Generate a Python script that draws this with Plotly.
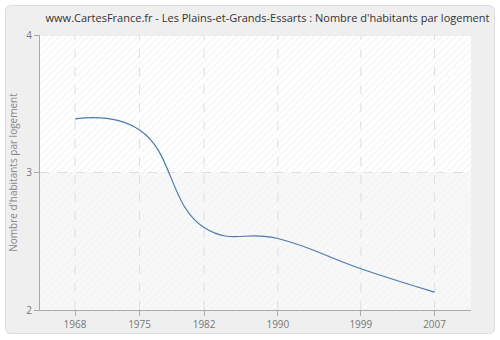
import plotly.graph_objects as go

years = [1968, 1975, 1982, 1990, 1999, 2007]
values = [3.39, 3.31, 2.60, 2.52, 2.30, 2.13]
x_ticks = [1968, 1975, 1982, 1990, 1999, 2007]
y_ticks = [2, 3, 4]
title = "www.CartesFrance.fr - Les Plains-et-Grands-Essarts : Nombre d'habitants par logement"
y_title = "Nombre d'habitants par logement"

X_RANGE = [1964.2, 2010.95]
Y_RANGE = [2, 4]

W, H = 500, 340
ML, MR, MT, MB = 40, 29, 35, 30

fig = go.Figure()

# hatched background bands
fig.add_trace(go.Scatter(
    x=[X_RANGE[0], X_RANGE[1], X_RANGE[1], X_RANGE[0], X_RANGE[0]],
    y=[3, 3, 4, 4, 3], mode="lines", line=dict(width=0),
    fill="toself", fillcolor="#ffffff",
    fillpattern=dict(shape="/", fgcolor="#e2e2e2", bgcolor="#ffffff", size=5, solidity=0.2),
    hoverinfo="skip", showlegend=False))
fig.add_trace(go.Scatter(
    x=[X_RANGE[0], X_RANGE[1], X_RANGE[1], X_RANGE[0], X_RANGE[0]],
    y=[2, 2, 3, 3, 2], mode="lines", line=dict(width=0),
    fill="toself", fillcolor="#f8f8f8",
    fillpattern=dict(shape="/", fgcolor="#ececec", bgcolor="#f8f8f8", size=5, solidity=0.2),
    hoverinfo="skip", showlegend=False))

# dashed gridlines drawn above the hatched bands
for xv in x_ticks:
    fig.add_trace(go.Scatter(x=[xv, xv], y=Y_RANGE, mode="lines",
                             line=dict(color="#dedede", width=1, dash="dash"),
                             hoverinfo="skip", showlegend=False))
for yv in y_ticks[1:]:
    fig.add_trace(go.Scatter(x=X_RANGE, y=[yv, yv], mode="lines",
                             line=dict(color="#dedede", width=1, dash="dash" if yv < Y_RANGE[1] else "solid"),
                             hoverinfo="skip", showlegend=False))

fig.add_trace(go.Scatter(
    x=years, y=values, mode="lines",
    line=dict(color="#4a7ab0", width=1.2, shape="spline", smoothing=1.3),
    showlegend=False, hoverinfo="x+y"))

pw = W - ML - MR
ph = H - MT - MB

def px(x):
    return (x - ML) / pw

def py(y):
    return (H - MB - y) / ph

x0, x1, y0, y1, r = 5.5, 494.5, 5.5, 333.5, 6
path = (f"M {px(x0+r)},{py(y0)} L {px(x1-r)},{py(y0)} Q {px(x1)},{py(y0)} {px(x1)},{py(y0+r)} "
        f"L {px(x1)},{py(y1-r)} Q {px(x1)},{py(y1)} {px(x1-r)},{py(y1)} "
        f"L {px(x0+r)},{py(y1)} Q {px(x0)},{py(y1)} {px(x0)},{py(y1-r)} "
        f"L {px(x0)},{py(y0+r)} Q {px(x0)},{py(y0)} {px(x0+r)},{py(y0)} Z")

fig.update_layout(
    width=W, height=H,
    margin=dict(l=ML, r=MR, t=MT, b=MB, autoexpand=False),
    paper_bgcolor="#ffffff",
    plot_bgcolor="#f8f8f8",
    font=dict(family="Open Sans", size=10, color="#666666"),
    title=dict(text=title, x=0.535, xanchor="center", y=0.947, yanchor="middle",
               font=dict(family="Open Sans", size=11, color="#333333")),
    shapes=[dict(type="path", path=path, xref="paper", yref="paper",
                 fillcolor="#efefef", line=dict(color="#dddddd", width=1), layer="below")],
    xaxis=dict(range=X_RANGE, tickvals=x_ticks, ticktext=[str(v) for v in x_ticks],
               showgrid=False,
               showline=True, linecolor="#aaaaaa", linewidth=1,
               ticks="outside", ticklen=5, tickcolor="#aaaaaa",
               zeroline=False, fixedrange=True, automargin=False,
               tickfont=dict(size=10, color="#777777")),
    yaxis=dict(range=Y_RANGE, tickvals=y_ticks, ticktext=[str(v) for v in y_ticks],
               showgrid=False,
               showline=True, linecolor="#aaaaaa", linewidth=1,
               ticks="outside", ticklen=5, tickcolor="#aaaaaa",
               zeroline=False, fixedrange=True, automargin=False,
               title=dict(text=y_title, font=dict(size=10, color="#888888"), standoff=6),
               tickfont=dict(size=10, color="#777777")),
)

fig.write_html("out.html")
